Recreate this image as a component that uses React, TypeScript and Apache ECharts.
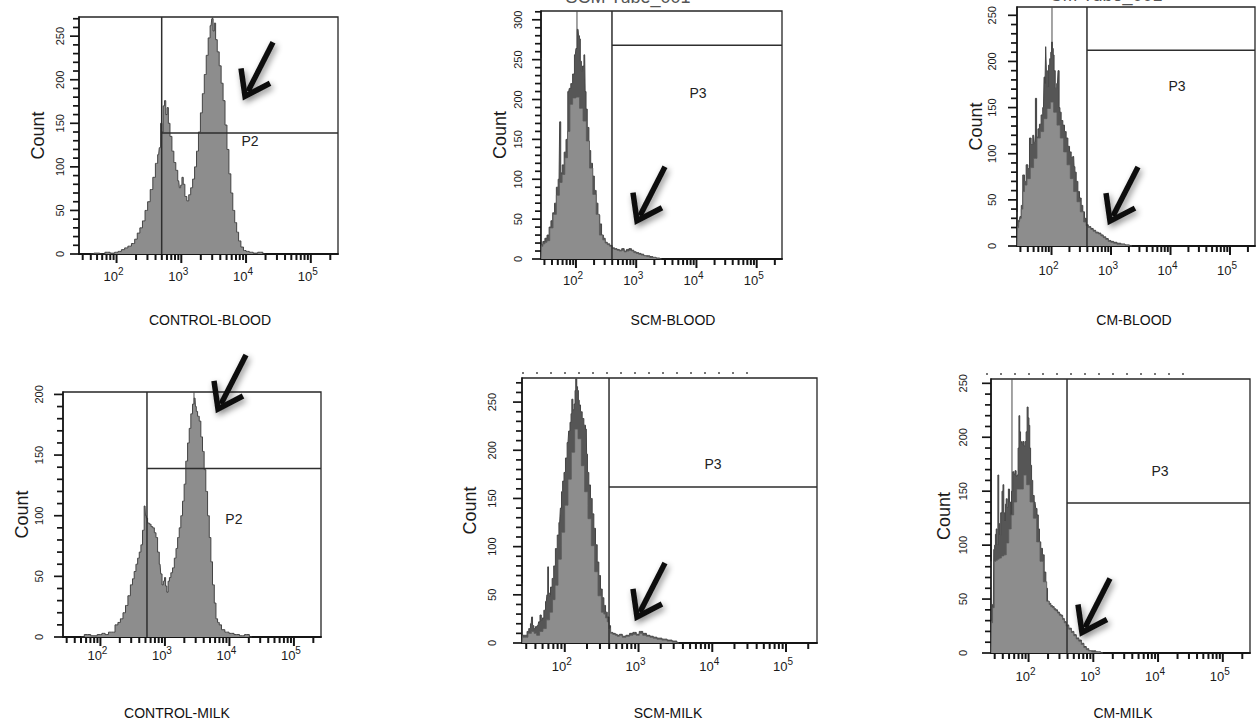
import React, { useEffect, useRef } from "react";
import * as echarts from "echarts";

// ---------- axis definitions (log10 units of fluorescence) ----------
const X_MIN = 1.42;
const X_MAX = 5.42;
const DECADE_EXPONENTS = [2, 3, 4, 5];
const MINOR_MULTIPLIERS = [2, 3, 4, 5, 6, 7, 8, 9];

const PANEL_NAMES = ["CONTROL-BLOOD", "SCM-BLOOD", "CM-BLOOD", "CONTROL-MILK", "SCM-MILK", "CM-MILK"];
const COUNT_MAX = [272, 311, 259, 202, 275, 254];
const COUNT_LABELS = [
  [0, 50, 100, 150, 200, 250],
  [0, 50, 100, 150, 200, 250, 300],
  [0, 50, 100, 150, 200, 250],
  [0, 50, 100, 150, 200],
  [0, 50, 100, 150, 200, 250],
  [0, 50, 100, 150, 200, 250],
];
const GATE_NAMES = ["P2", "P3", "P3", "P2", "P3", "P3"];
const GATE_START = [2.697, 2.598, 2.596, 2.722, 2.6, 2.594];
const GATE_COUNT = [139, 268, 212, 139, 162, 139];
const PEAK_MARK = [3.485, 2.017, 2.008, 3.451, 2.152, 1.744];
const GATE_LABEL_AT = [[4.06, 130], [4.026, 208], [4.109, 173], [4.07, 97], [4.01, 186], [4.03, 169]];
const ARROW_TIP = [[3.984, 181], [3.013, 48], [2.983, 27], [3.823, 188], [2.979, 27], [2.825, 19]];
const TUBE_TITLES = ["SCM Tube_001", "CM Tube_001"];

// ---------- histogram values [log10 intensity, count] ----------
const CONTROL_BLOOD = [
  [1.6, 0], [1.7, 1], [1.78, 0], [1.86, 2], [1.94, 1], [2.0, 2], [2.05, 3], [2.1, 5], [2.15, 7], [2.2, 9],
  [2.26, 12], [2.3, 17], [2.34, 24], [2.38, 30], [2.42, 38], [2.46, 50], [2.5, 60], [2.54, 74], [2.58, 88],
  [2.62, 104], [2.65, 114], [2.67, 122], [2.69, 150], [2.71, 140], [2.73, 170], [2.75, 176], [2.77, 160],
  [2.79, 168], [2.81, 150], [2.84, 135], [2.87, 118], [2.9, 105], [2.93, 96], [2.96, 84], [2.98, 76],
  [3.0, 79], [3.02, 88], [3.04, 80], [3.07, 66], [3.1, 61], [3.13, 68], [3.16, 76], [3.19, 86], [3.22, 100],
  [3.25, 118], [3.28, 140], [3.31, 162], [3.34, 184], [3.37, 206], [3.4, 228], [3.43, 248], [3.46, 262],
  [3.48, 270], [3.5, 256], [3.52, 265], [3.54, 246], [3.57, 232], [3.6, 216], [3.63, 196], [3.66, 176],
  [3.69, 148], [3.72, 120], [3.75, 92], [3.78, 70], [3.81, 50], [3.84, 36], [3.87, 25], [3.9, 15], [3.94, 8],
  [3.98, 4], [4.02, 3], [4.08, 2], [4.14, 1], [4.22, 2], [4.3, 0],
];

const SCM_BLOOD_PEAK = [
  [1.42, 252], [1.432, 18], [1.47, 22], [1.5, 26], [1.54, 30], [1.57, 40], [1.6, 48], [1.63, 58], [1.66, 70],
  [1.69, 90], [1.72, 100], [1.74, 172], [1.755, 108], [1.79, 118], [1.82, 134], [1.85, 150], [1.88, 210],
  [1.9, 214], [1.93, 220], [1.96, 232], [1.99, 256], [2.01, 264], [2.035, 288], [2.05, 280], [2.065, 276],
  [2.08, 248], [2.1, 236], [2.12, 242], [2.145, 256], [2.16, 210], [2.175, 188], [2.2, 165], [2.23, 136],
  [2.26, 120], [2.29, 104], [2.32, 86], [2.35, 70], [2.38, 55], [2.41, 44], [2.44, 30], [2.47, 26], [2.5, 21],
  [2.54, 19], [2.58, 17], [2.62, 14], [2.66, 13], [2.7, 12], [2.74, 11], [2.78, 13], [2.82, 10], [2.86, 12],
  [2.9, 13], [2.94, 11], [2.98, 9], [3.02, 8], [3.06, 7], [3.1, 6], [3.15, 4], [3.2, 4], [3.25, 3], [3.3, 2],
  [3.36, 1], [3.42, 0],
];
const SCM_BLOOD_BASE = [
  [1.42, 0], [1.432, 16], [1.47, 19], [1.5, 21], [1.54, 23], [1.59, 39], [1.65, 56], [1.7, 80], [1.75, 96],
  [1.79, 106], [1.84, 127], [1.88, 160], [1.92, 194], [1.97, 202], [2.03, 203], [2.09, 189], [2.145, 173],
  [2.2, 148], [2.25, 114], [2.31, 81], [2.36, 56], [2.42, 30], [2.47, 24], [2.5, 20], [2.54, 18], [2.58, 16],
  [2.62, 13], [2.66, 12], [2.7, 11], [2.74, 10], [2.78, 11], [2.82, 9], [2.86, 10], [2.9, 11], [2.94, 10],
  [2.98, 8], [3.02, 7], [3.06, 6], [3.1, 5], [3.15, 4], [3.2, 3], [3.25, 2], [3.3, 2], [3.36, 1], [3.42, 0],
];

const CM_BLOOD_PEAK = [
  [1.42, 37], [1.435, 22], [1.46, 28], [1.48, 32], [1.504, 44], [1.53, 77], [1.56, 70], [1.588, 88],
  [1.616, 84], [1.644, 117], [1.67, 110], [1.7, 120], [1.72, 112], [1.739, 160], [1.76, 118], [1.784, 127],
  [1.81, 132], [1.84, 142], [1.865, 150], [1.885, 183], [1.897, 176], [1.907, 216], [1.92, 190], [1.941, 172],
  [1.96, 196], [1.98, 203], [1.995, 210], [2.008, 221], [2.022, 214], [2.036, 207], [2.05, 190], [2.075, 171],
  [2.1, 176], [2.12, 190], [2.135, 150], [2.148, 145], [2.176, 136], [2.204, 131], [2.232, 124], [2.26, 117],
  [2.29, 108], [2.316, 102], [2.345, 96], [2.372, 97], [2.386, 86], [2.4, 80], [2.43, 70], [2.456, 59],
  [2.485, 52], [2.512, 44], [2.54, 37], [2.568, 30], [2.596, 23], [2.64, 21], [2.68, 19], [2.72, 17],
  [2.764, 15], [2.81, 14], [2.848, 12], [2.89, 10], [2.933, 8], [2.975, 6], [3.017, 5], [3.07, 4], [3.129, 3],
  [3.2, 2], [3.27, 1], [3.35, 0],
];
const CM_BLOOD_BASE = [
  [1.42, 0], [1.435, 20], [1.46, 26], [1.48, 30], [1.504, 40], [1.532, 59], [1.56, 66], [1.616, 73],
  [1.67, 85], [1.728, 95], [1.784, 117], [1.84, 124], [1.896, 138], [1.952, 149], [2.008, 156], [2.064, 145],
  [2.12, 131], [2.176, 117], [2.232, 102], [2.288, 88], [2.344, 73], [2.4, 59], [2.456, 48], [2.512, 37],
  [2.568, 26], [2.596, 22], [2.64, 20], [2.68, 18], [2.72, 16], [2.764, 14], [2.81, 13], [2.848, 11],
  [2.89, 9], [2.933, 7], [2.975, 5], [3.017, 4], [3.07, 3], [3.129, 2], [3.2, 2], [3.27, 1], [3.35, 0],
];

const CONTROL_MILK = [
  [1.7, 0], [1.8, 2], [1.9, 1], [2.0, 2], [2.046, 3], [2.1, 2], [2.15, 4], [2.2, 4], [2.253, 10], [2.29, 12],
  [2.33, 15], [2.37, 20], [2.408, 26], [2.445, 34], [2.485, 43], [2.51, 48], [2.537, 54], [2.565, 60],
  [2.589, 65], [2.615, 70], [2.641, 76], [2.665, 88], [2.692, 108], [2.705, 100], [2.718, 98], [2.745, 94],
  [2.77, 93], [2.8, 91], [2.822, 90], [2.85, 86], [2.873, 82], [2.9, 70], [2.925, 60], [2.945, 52],
  [2.966, 43], [2.985, 46], [3.002, 49], [3.02, 42], [3.039, 37], [3.06, 46], [3.08, 49], [3.105, 53],
  [3.132, 57], [3.16, 65], [3.184, 73], [3.21, 82], [3.234, 90], [3.26, 100], [3.286, 112], [3.31, 126],
  [3.338, 145], [3.365, 160], [3.389, 172], [3.415, 184], [3.441, 192], [3.467, 197], [3.48, 190],
  [3.493, 186], [3.52, 182], [3.544, 178], [3.57, 165], [3.596, 153], [3.62, 138], [3.648, 120], [3.675, 100],
  [3.7, 82], [3.725, 62], [3.751, 43], [3.78, 28], [3.803, 15], [3.83, 12], [3.855, 10], [3.9, 6], [3.958, 4],
  [4.03, 3], [4.113, 2], [4.2, 1], [4.268, 2], [4.35, 0],
];

const SCM_MILK_PEAK = [
  [1.42, 62], [1.435, 8], [1.455, 8], [1.478, 8], [1.5, 12], [1.524, 15], [1.545, 20], [1.556, 27], [1.57, 18],
  [1.592, 15], [1.615, 17], [1.637, 18], [1.655, 22], [1.673, 29], [1.69, 24], [1.705, 26], [1.728, 34],
  [1.75, 43], [1.765, 50], [1.773, 79], [1.785, 52], [1.795, 49], [1.818, 58], [1.84, 67], [1.86, 80],
  [1.886, 98], [1.91, 112], [1.931, 125], [1.95, 140], [1.962, 157], [1.98, 168], [1.999, 177], [2.02, 192],
  [2.044, 208], [2.062, 220], [2.08, 229], [2.09, 238], [2.102, 253], [2.118, 242], [2.134, 248], [2.145, 262],
  [2.157, 274], [2.168, 266], [2.179, 262], [2.19, 252], [2.202, 247], [2.225, 240], [2.247, 233], [2.27, 226],
  [2.292, 222], [2.3, 196], [2.315, 177], [2.337, 164], [2.36, 150], [2.383, 134], [2.405, 119], [2.428, 102],
  [2.451, 84], [2.473, 70], [2.496, 56], [2.519, 47], [2.541, 39], [2.565, 32], [2.587, 27], [2.61, 18],
  [2.632, 11], [2.67, 10], [2.7, 9], [2.722, 8], [2.76, 9], [2.8, 7], [2.858, 8], [2.9, 10], [2.948, 11],
  [2.99, 9], [3.03, 12], [3.084, 10], [3.13, 8], [3.18, 7], [3.219, 6], [3.28, 5], [3.355, 4], [3.42, 3],
  [3.49, 2], [3.55, 0],
];
const SCM_MILK_BASE = [
  [1.42, 0], [1.435, 6], [1.478, 6], [1.524, 10], [1.57, 12], [1.6, 10], [1.637, 8], [1.68, 12], [1.728, 15],
  [1.77, 24], [1.818, 32], [1.85, 45], [1.886, 60], [1.931, 87], [1.976, 115], [2.021, 143], [2.066, 170],
  [2.111, 198], [2.157, 222], [2.202, 212], [2.247, 184], [2.292, 157], [2.337, 129], [2.383, 101],
  [2.428, 74], [2.473, 49], [2.519, 32], [2.541, 30], [2.565, 26], [2.587, 22], [2.61, 15], [2.632, 10],
  [2.67, 9], [2.7, 8], [2.722, 7], [2.76, 8], [2.8, 6], [2.858, 7], [2.9, 8], [2.948, 9], [2.99, 8], [3.03, 10],
  [3.084, 8], [3.13, 7], [3.18, 6], [3.219, 5], [3.28, 4], [3.355, 3], [3.42, 2], [3.49, 1], [3.55, 0],
];

const CM_MILK_PEAK = [
  [1.42, 85], [1.432, 30], [1.456, 45], [1.47, 96], [1.482, 100], [1.495, 110], [1.507, 115], [1.52, 100],
  [1.533, 165], [1.546, 120], [1.559, 109], [1.58, 130], [1.6, 150], [1.61, 156], [1.625, 130], [1.636, 122],
  [1.65, 138], [1.661, 143], [1.68, 135], [1.697, 152], [1.713, 140], [1.728, 128], [1.745, 150], [1.765, 168],
  [1.78, 166], [1.801, 169], [1.815, 164], [1.832, 165], [1.845, 190], [1.858, 220], [1.87, 205], [1.883, 196],
  [1.9, 194], [1.92, 196], [1.94, 192], [1.955, 196], [1.97, 205], [1.986, 228], [2.0, 218], [2.012, 211],
  [2.025, 190], [2.038, 174], [2.055, 160], [2.074, 146], [2.1, 140], [2.12, 134], [2.141, 128], [2.16, 115],
  [2.177, 103], [2.2, 97], [2.229, 91], [2.254, 75], [2.28, 60], [2.306, 48], [2.33, 46], [2.357, 44],
  [2.38, 43], [2.409, 41], [2.435, 40], [2.46, 38], [2.49, 36], [2.512, 35], [2.54, 32], [2.563, 29],
  [2.6, 26], [2.641, 23], [2.68, 20], [2.718, 17], [2.755, 14], [2.795, 12], [2.835, 9], [2.872, 6],
  [2.91, 4], [2.95, 2], [3.0, 2], [3.078, 1], [3.15, 0],
];
const CM_MILK_BASE = [
  [1.42, 0], [1.432, 28], [1.456, 42], [1.482, 85], [1.507, 86], [1.533, 87], [1.56, 88], [1.6, 90],
  [1.636, 91], [1.675, 102], [1.713, 115], [1.75, 128], [1.79, 140], [1.842, 152], [1.894, 152], [1.945, 165],
  [1.997, 156], [2.048, 140], [2.1, 125], [2.151, 103], [2.203, 85], [2.254, 66], [2.306, 48], [2.33, 45],
  [2.357, 43], [2.38, 42], [2.409, 40], [2.435, 39], [2.46, 37], [2.49, 35], [2.512, 34], [2.54, 31],
  [2.563, 28], [2.6, 25], [2.641, 22], [2.68, 19], [2.718, 16], [2.755, 13], [2.795, 11], [2.835, 8],
  [2.872, 5], [2.91, 3], [2.95, 2], [3.0, 1], [3.078, 1], [3.15, 0],
];

const HISTOGRAMS = [
  { outer: CONTROL_BLOOD, inner: null },
  { outer: SCM_BLOOD_PEAK, inner: SCM_BLOOD_BASE },
  { outer: CM_BLOOD_PEAK, inner: CM_BLOOD_BASE },
  { outer: CONTROL_MILK, inner: null },
  { outer: SCM_MILK_PEAK, inner: SCM_MILK_BASE },
  { outer: CM_MILK_PEAK, inner: CM_MILK_BASE },
];

// ---------- layout & style ----------
const GRID_BOX = [
  { left: 79, top: 17, width: 259, height: 237 },
  { left: 541, top: 11, width: 241, height: 248 },
  { left: 1017, top: 7, width: 238, height: 239 },
  { left: 63, top: 392, width: 258, height: 245 },
  { left: 522, top: 378, width: 295, height: 265 },
  { left: 991, top: 379, width: 259, height: 274 },
];
const COUNT_NAME_GAP = [32, 32, 32, 32, 43, 38];
const Y_LABEL_MARGIN = [14, 18, 20, 19, 25, 23];
const X_LABEL_MARGIN = [12, 11, 14, 8, 13, 13];
const CAPTION_POS = [[210, 320], [673, 320], [1134, 320], [177, 713], [668, 713], [1123, 713]];
const TUBE_TITLE_POS = [[628, 6], [1106, 4]];
const FONT = '"Liberation Sans", Arial, Helvetica, sans-serif';
const NARROW = '"Liberation Sans Narrow", "Arial Narrow", "Liberation Sans", Arial, sans-serif';
const INK = "#1a1a1a";
const DARK_FILL = "#565656";
const LIGHT_FILL = "#8d8d8d";
const TICK_MAJOR = 9;
const TICK_MINOR = 6;
const TICK_COLOR = "#151515";

function minorTickValues(): number[] {
  const out: number[] = [];
  for (let e = 1; e <= 5; e++) {
    for (const m of MINOR_MULTIPLIERS) {
      const v = e + Math.log10(m);
      if (v > X_MIN && v < X_MAX) out.push(v);
    }
  }
  return out;
}

function buildOption(): any {
  const grid: any[] = [];
  const xAxis: any[] = [];
  const yAxis: any[] = [];
  const series: any[] = [];
  for (let i = 0; i < 6; i++) {
    const b = GRID_BOX[i];
    const ymax = COUNT_MAX[i];
    grid.push({
      ...b,
      show: true,
      borderColor: "#262626",
      borderWidth: 1.3,
      backgroundColor: "transparent",
      containLabel: false,
      outerBoundsMode: "none",
    });
    xAxis.push({
      type: "value",
      gridIndex: i,
      min: X_MIN,
      max: X_MAX,
      position: "bottom",
      axisLine: { show: true, onZero: false, lineStyle: { color: "#151515", width: 1.8 } },
      axisTick: { show: false },
      axisLabel: {
        show: true,
        customValues: DECADE_EXPONENTS,
        margin: X_LABEL_MARGIN[i],
        padding: [0, 6, 0, 0],
        formatter: (v: number) => `{b|10}{s|${Math.round(v)}}`,
        rich: {
          b: { fontSize: 13, fontFamily: NARROW, color: INK, verticalAlign: "bottom", lineHeight: 15 },
          s: { fontSize: 10, fontFamily: NARROW, color: INK, verticalAlign: "bottom", padding: [0, 0, 7, 0] },
        },
      },
      splitLine: { show: false },
    });
    yAxis.push({
      type: "value",
      gridIndex: i,
      min: 0,
      max: ymax,
      position: "left",
      name: "Count",
      nameLocation: "middle",
      nameRotate: 90,
      nameGap: COUNT_NAME_GAP[i],
      nameTextStyle: { fontSize: 18, fontFamily: FONT, color: INK },
      axisLine: { show: true, lineStyle: { color: "#151515", width: 1.6 } },
      axisTick: { show: false },
      axisLabel: {
        show: true,
        customValues: COUNT_LABELS[i],
        rotate: 90,
        margin: Y_LABEL_MARGIN[i],
        fontSize: 11,
        fontFamily: NARROW,
        color: INK,
      },
      splitLine: { show: false },
    });

    // thin peak-marker cursor line (behind histogram)
    series.push({
      type: "line",
      xAxisIndex: i,
      yAxisIndex: i,
      data: [[PEAK_MARK[i], 0], [PEAK_MARK[i], ymax]],
      symbol: "none",
      silent: true,
      z: 1,
      lineStyle: { color: "#4a4a4a", width: 1 },
    });
    const h = HISTOGRAMS[i];
    series.push({
      type: "line",
      name: PANEL_NAMES[i],
      xAxisIndex: i,
      yAxisIndex: i,
      data: h.outer,
      step: "middle",
      symbol: "none",
      silent: true,
      z: 2,
      lineStyle: { color: "#444", width: 1 },
      areaStyle: { color: h.inner ? DARK_FILL : LIGHT_FILL, opacity: 1 },
    });
    if (h.inner) {
      series.push({
        type: "line",
        xAxisIndex: i,
        yAxisIndex: i,
        data: h.inner,
        step: "middle",
        symbol: "none",
        silent: true,
        z: 3,
        lineStyle: { color: "#5a5a5a", width: 0.8 },
        areaStyle: { color: LIGHT_FILL, opacity: 1 },
      });
    }
    // gate: vertical boundary plus horizontal boundary to the right edge
    series.push({
      type: "line",
      xAxisIndex: i,
      yAxisIndex: i,
      data: [
        [GATE_START[i], 0],
        [GATE_START[i], ymax],
        [GATE_START[i], GATE_COUNT[i]],
        [X_MAX, GATE_COUNT[i]],
      ],
      symbol: "none",
      silent: true,
      z: 4,
      lineStyle: { color: "#2e2e2e", width: 1.5 },
    });
  }
  return {
    animation: false,
    backgroundColor: "#ffffff",
    grid,
    xAxis,
    yAxis,
    series,
  };
}

const ARROW_SHAFT = [[3, -5], [28, -54]];
const ARROW_HEAD = [[-4, -28], [0, 0], [25, -13]];

function buildGraphics(chart: any): any[] {
  const els: any[] = [];
  const shadow = {
    shadowBlur: 6,
    shadowColor: "rgba(0,0,0,0.45)",
    shadowOffsetX: 2,
    shadowOffsetY: 3,
  };
  const minor = minorTickValues();
  for (let i = 0; i < 6; i++) {
    const finder = { xAxisIndex: i, yAxisIndex: i };
    // axis tick marks, positioned through the axes' scales
    const xTicks = [
      ...DECADE_EXPONENTS.map((v) => [v, TICK_MAJOR]),
      ...minor.map((v) => [v, TICK_MINOR]),
    ];
    for (const [v, len] of xTicks) {
      const p = chart.convertToPixel(finder, [v, 0]);
      els.push({
        type: "line",
        z: 6,
        shape: { x1: p[0], y1: p[1], x2: p[0], y2: p[1] + len },
        style: { stroke: TICK_COLOR, lineWidth: 2 },
      });
    }
    for (let v = 0; v <= COUNT_MAX[i]; v += 10) {
      const len = COUNT_LABELS[i].includes(v) ? TICK_MAJOR : TICK_MINOR;
      const p = chart.convertToPixel(finder, [X_MIN, v]);
      els.push({
        type: "line",
        z: 6,
        shape: { x1: p[0], y1: p[1], x2: p[0] - len, y2: p[1] },
        style: { stroke: TICK_COLOR, lineWidth: 1.7 },
      });
    }

    const tip = chart.convertToPixel(finder, ARROW_TIP[i]);
    const lab = chart.convertToPixel(finder, GATE_LABEL_AT[i]);
    els.push({
      type: "text",
      x: lab[0],
      y: lab[1],
      z: 10,
      style: { text: GATE_NAMES[i], fontSize: 14, fontFamily: FONT, fill: "#222", align: "center", verticalAlign: "middle" },
    });
    els.push({
      type: "polyline",
      z: 20,
      shape: { points: ARROW_SHAFT.map((p) => [tip[0] + p[0], tip[1] + p[1]]) },
      style: { stroke: "#111", lineWidth: 5.5, fill: null, lineCap: "butt", ...shadow },
    });
    els.push({
      type: "polyline",
      z: 20,
      shape: { points: ARROW_HEAD.map((p) => [tip[0] + p[0], tip[1] + p[1]]) },
      style: { stroke: "#111", lineWidth: 5.5, fill: null, lineJoin: "miter", lineCap: "butt", ...shadow },
    });
    els.push({
      type: "text",
      x: CAPTION_POS[i][0],
      y: CAPTION_POS[i][1],
      z: 10,
      style: { text: PANEL_NAMES[i], fontSize: 14, fontFamily: FONT, fill: "#111", align: "center", verticalAlign: "middle" },
    });
  }
  for (let k = 0; k < TUBE_TITLES.length; k++) {
    els.push({
      type: "text",
      x: TUBE_TITLE_POS[k][0],
      y: TUBE_TITLE_POS[k][1],
      z: 10,
      style: { text: TUBE_TITLES[k], fontSize: 18, fontFamily: FONT, fill: "#555", align: "center", verticalAlign: "bottom" },
    });
  }
  // clipped remnants of bottom-row tube titles
  els.push({
    type: "line",
    shape: { x1: 522, y1: 373, x2: 752, y2: 373 },
    style: { stroke: "#777", lineWidth: 2, lineDash: [2, 12] },
  });
  els.push({
    type: "line",
    shape: { x1: 986, y1: 374, x2: 1196, y2: 374 },
    style: { stroke: "#777", lineWidth: 2, lineDash: [2, 12] },
  });
  return els;
}

export default function App() {
  const ref = useRef<HTMLDivElement>(null);
  useEffect(() => {
    if (!ref.current) return;
    const chart = echarts.init(ref.current, null, { renderer: "svg" });
    chart.setOption(buildOption());
    chart.setOption({ graphic: buildGraphics(chart) });
    return () => chart.dispose();
  }, []);
  return (
    <div
      ref={ref}
      style={{ position: "fixed", left: 0, top: 0, width: 1256, height: 723, background: "#fff" }}
    />
  );
}
